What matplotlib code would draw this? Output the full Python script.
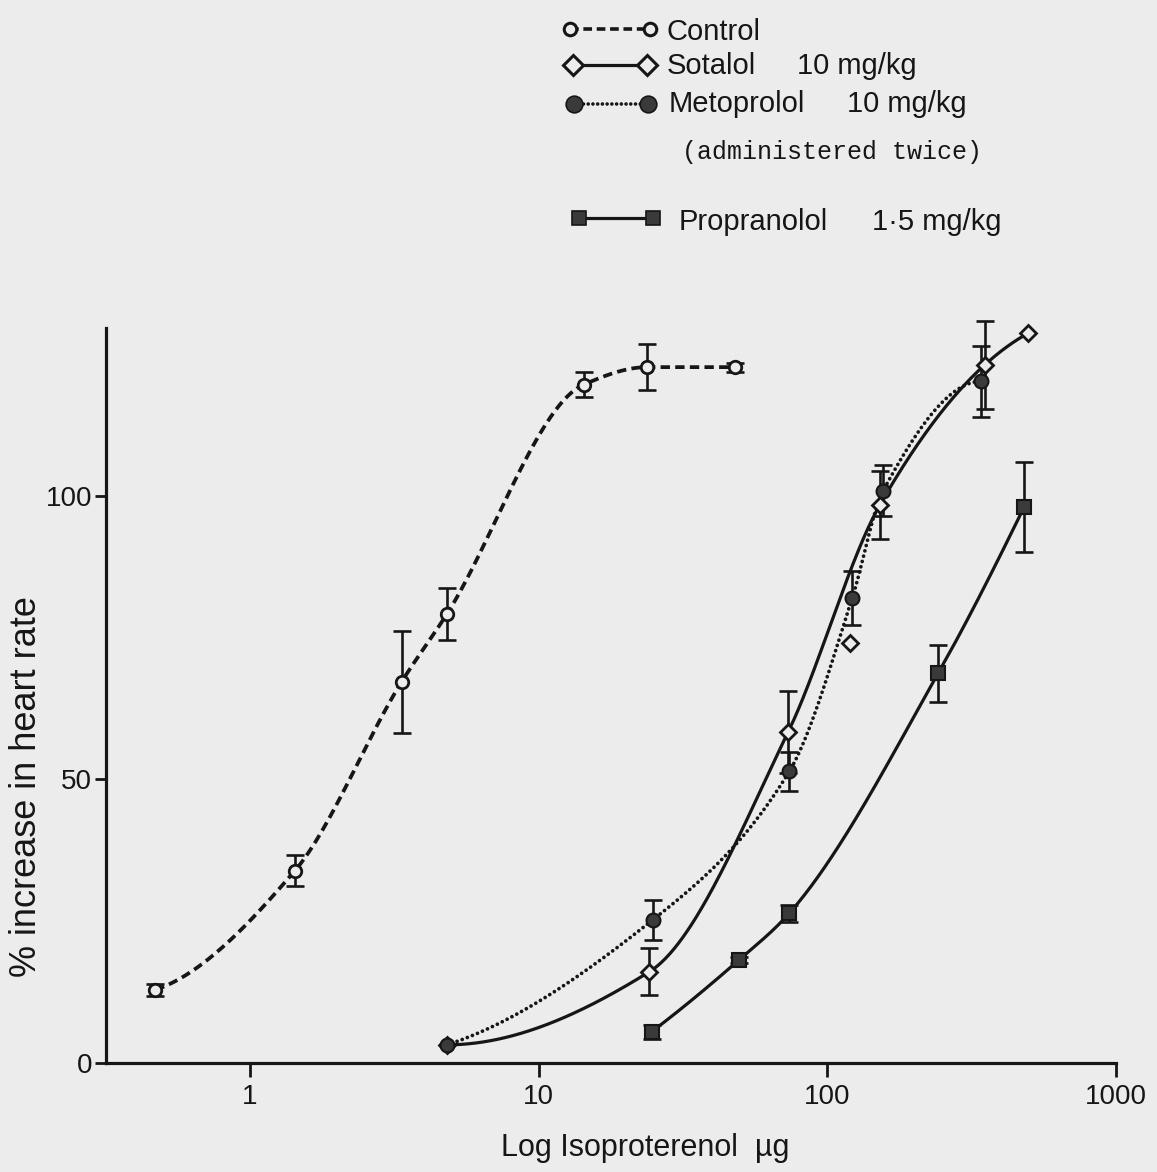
import numpy as np
import matplotlib
matplotlib.use("Agg")
import matplotlib.pyplot as plt
from matplotlib.lines import Line2D
from matplotlib.ticker import NullLocator

# ---------------- data ----------------
control_dose = [0.47, 1.43, 3.35, 4.8, 14.3, 23.8, 47.9]
control_resp = [12.9, 33.9, 67.2, 79.1, 119.6, 122.7, 122.7]
control_sem = [1.0, 2.7, 9.0, 4.6, 2.2, 4.0, 0.8]

sotalol_dose = [4.8, 24.2, 73.2, 120, 152, 351, 497]
sotalol_resp = [3.2, 16.1, 58.4, 74.1, 98.4, 123.1, 128.7]
sotalol_sem = [0, 4.1, 7.2, 0, 6.0, 7.8, 0]
sotalol_on_curve = [True, True, True, False, True, True, True]

metoprolol_dose = [4.8, 24.8, 73.8, 122, 156, 342]
metoprolol_resp = [3.2, 25.2, 51.4, 82.0, 100.9, 120.2]
metoprolol_sem = [0, 3.5, 3.5, 4.8, 4.5, 6.3]

propranolol_dose = [24.6, 49.5, 73.8, 242, 480]
propranolol_resp = [5.5, 18.2, 26.4, 68.7, 98.0]
propranolol_sem = [1.2, 0.5, 1.5, 5.0, 7.9]

x_ticks = [1, 10, 100, 1000]
x_ticklabels = ["1", "10", "100", "1000"]
y_ticks = [0, 50, 100]
y_ticklabels = ["0", "50", "100"]

x_label = "Log Isoproterenol  \u00b5g"
y_label = "% increase in heart rate"

# ---------------- styling ----------------
W, H = 1157, 1172
BG = "#ececec"
INK = "#161616"
FILL = "#3a3a3a"
SANS = ["Liberation Sans", "DejaVu Sans"]
MONO = ["Liberation Mono", "DejaVu Sans Mono"]


def pchip(x, y, xs):
    x = np.asarray(x, float)
    y = np.asarray(y, float)
    h = np.diff(x)
    d = np.diff(y) / h
    n = len(x)
    m = np.zeros(n)
    for k in range(1, n - 1):
        if d[k - 1] * d[k] > 0:
            w1 = 2 * h[k] + h[k - 1]
            w2 = h[k] + 2 * h[k - 1]
            m[k] = (w1 + w2) / (w1 / d[k - 1] + w2 / d[k])

    def end(h0, h1, d0, d1):
        mm = ((2 * h0 + h1) * d0 - h0 * d1) / (h0 + h1)
        if np.sign(mm) != np.sign(d0):
            mm = 0.0
        elif np.sign(d0) != np.sign(d1) and abs(mm) > abs(3 * d0):
            mm = 3 * d0
        return mm

    if n > 2:
        m[0] = end(h[0], h[1], d[0], d[1])
        m[-1] = end(h[-1], h[-2], d[-1], d[-2])
    else:
        m[:] = d[0]
    idx = np.clip(np.searchsorted(x, xs) - 1, 0, n - 2)
    t = (xs - x[idx]) / h[idx]
    h00 = 2 * t**3 - 3 * t**2 + 1
    h10 = t**3 - 2 * t**2 + t
    h01 = -2 * t**3 + 3 * t**2
    h11 = t**3 - t**2
    return h00 * y[idx] + h10 * h[idx] * m[idx] + h01 * y[idx + 1] + h11 * h[idx] * m[idx + 1]


def smooth(dose, resp, mask=None):
    dose = np.asarray(dose, float)
    resp = np.asarray(resp, float)
    if mask is not None:
        mask = np.asarray(mask, bool)
        dose, resp = dose[mask], resp[mask]
    lx = np.log10(dose)
    xs = np.linspace(lx[0], lx[-1], 400)
    return 10**xs, pchip(lx, resp, xs)


def fx(px):
    return px / W


def fy(py):
    return 1 - py / H


fig = plt.figure(figsize=(W / 100, H / 100), dpi=100, facecolor=BG)
ax = fig.add_axes([fx(106), fy(1063), (1116 - 106) / W, (1063 - 328) / H])
ax.set_facecolor(BG)
ax.set_xscale("log")
ax.set_xlim(0.317, 1000)
ax.set_ylim(0, 129.6)

# curves
cx, cy = smooth(control_dose, control_resp)
ax.plot(cx, cy, color=INK, lw=2.7, linestyle=(0, (2.5, 1.4)), zorder=2)
sx, sy = smooth(sotalol_dose, sotalol_resp, sotalol_on_curve)
ax.plot(sx, sy, color=INK, lw=2.3, zorder=2)
mx, my = smooth(metoprolol_dose, metoprolol_resp)
ax.plot(mx, my, color=INK, lw=2.7, linestyle=(0, (0.01, 1.45)),
        dash_capstyle="round", zorder=2)
px_, py_ = smooth(propranolol_dose, propranolol_resp)
ax.plot(px_, py_, color=INK, lw=2.3, zorder=2)


def ebars(dose, resp, sem):
    d = np.asarray(dose, float)
    r = np.asarray(resp, float)
    s = np.asarray(sem, float)
    k = s > 0
    cont = ax.errorbar(d[k], r[k], yerr=s[k], fmt="none", ecolor=INK,
                       elinewidth=1.9, capsize=6.5, capthick=1.9, zorder=3)
    for art in cont.lines[1] + cont.lines[2]:
        art.set_clip_on(False)


ebars(control_dose, control_resp, control_sem)
ebars(sotalol_dose, sotalol_resp, sotalol_sem)
ebars(metoprolol_dose, metoprolol_resp, metoprolol_sem)
ebars(propranolol_dose, propranolol_resp, propranolol_sem)

ax.plot(control_dose, control_resp, "o", ms=9, mfc=BG, mec=INK, mew=2.0,
        ls="none", zorder=5, clip_on=False)
ax.plot(sotalol_dose, sotalol_resp, "D", ms=8.5, mfc=BG, mec=INK, mew=2.0,
        ls="none", zorder=5, clip_on=False)
ax.plot(metoprolol_dose, metoprolol_resp, "o", ms=10, mfc=FILL, mec=INK,
        mew=1.5, ls="none", zorder=6, clip_on=False)
ax.plot(propranolol_dose, propranolol_resp, "s", ms=10, mfc=FILL, mec=INK,
        mew=1.5, ls="none", zorder=6, clip_on=False)

# axes styling
for side in ("top", "right"):
    ax.spines[side].set_visible(False)
for side in ("left", "bottom"):
    ax.spines[side].set_linewidth(2.3)
    ax.spines[side].set_color(INK)
ax.xaxis.set_minor_locator(NullLocator())
ax.set_xticks(x_ticks, x_ticklabels)
ax.set_yticks(y_ticks, y_ticklabels)
ax.tick_params(axis="x", direction="out", length=10, width=2.0, pad=5,
               labelsize=20, colors=INK)
ax.tick_params(axis="y", direction="out", length=8, width=2.0, pad=2,
               labelsize=20, colors=INK)
for lab in ax.get_xticklabels() + ax.get_yticklabels():
    lab.set_family(SANS)

fig.text(fx(645), fy(1148), x_label, ha="center", va="center",
         fontsize=22, family=SANS, color=INK)
fig.text(fx(27), fy(787), y_label, ha="center", va="center", rotation=90,
         fontsize=26, family=SANS, color=INK)

# ---------------- legend (drawn manually to mimic layout) ----------------
def key(x0, x1, y, **kw):
    fig.add_artist(Line2D([fx(x0), fx(x1)], [fy(y), fy(y)],
                          transform=fig.transFigure, color=INK, **kw))


key(570, 650, 29, lw=2.6, linestyle=(0, (2.4, 1.3)), marker="o", ms=9,
    mfc=BG, mec=INK, mew=2.2)
key(573, 647, 65, lw=2.3, marker="D", ms=10.5, mfc=BG, mec=INK, mew=2.2)
key(574, 648, 104, lw=2.6, linestyle=(0, (0.01, 1.3)), dash_capstyle="round",
    marker="o", ms=12, mfc=FILL, mec=INK, mew=1.2)
key(579, 653, 218, lw=2.3, marker="s", ms=10.5, mfc=FILL, mec=INK, mew=1.2)


def ltext(px, py, s, family=SANS, size=21):
    fig.text(fx(px), fy(py), s, ha="left", va="baseline", fontsize=size,
             family=family, color=INK)


ltext(667, 40, "Control")
ltext(667, 74, "Sotalol")
ltext(797, 74, "10 mg/kg")
ltext(669, 112, "Metoprolol")
ltext(847, 112, "10 mg/kg")
ltext(682, 159, "(administered twice)", family=MONO, size=18)
ltext(679, 230, "Propranolol")
ltext(872, 230, "1\u00b75 mg/kg")

fig.savefig("out.png", dpi=100, facecolor=BG)
